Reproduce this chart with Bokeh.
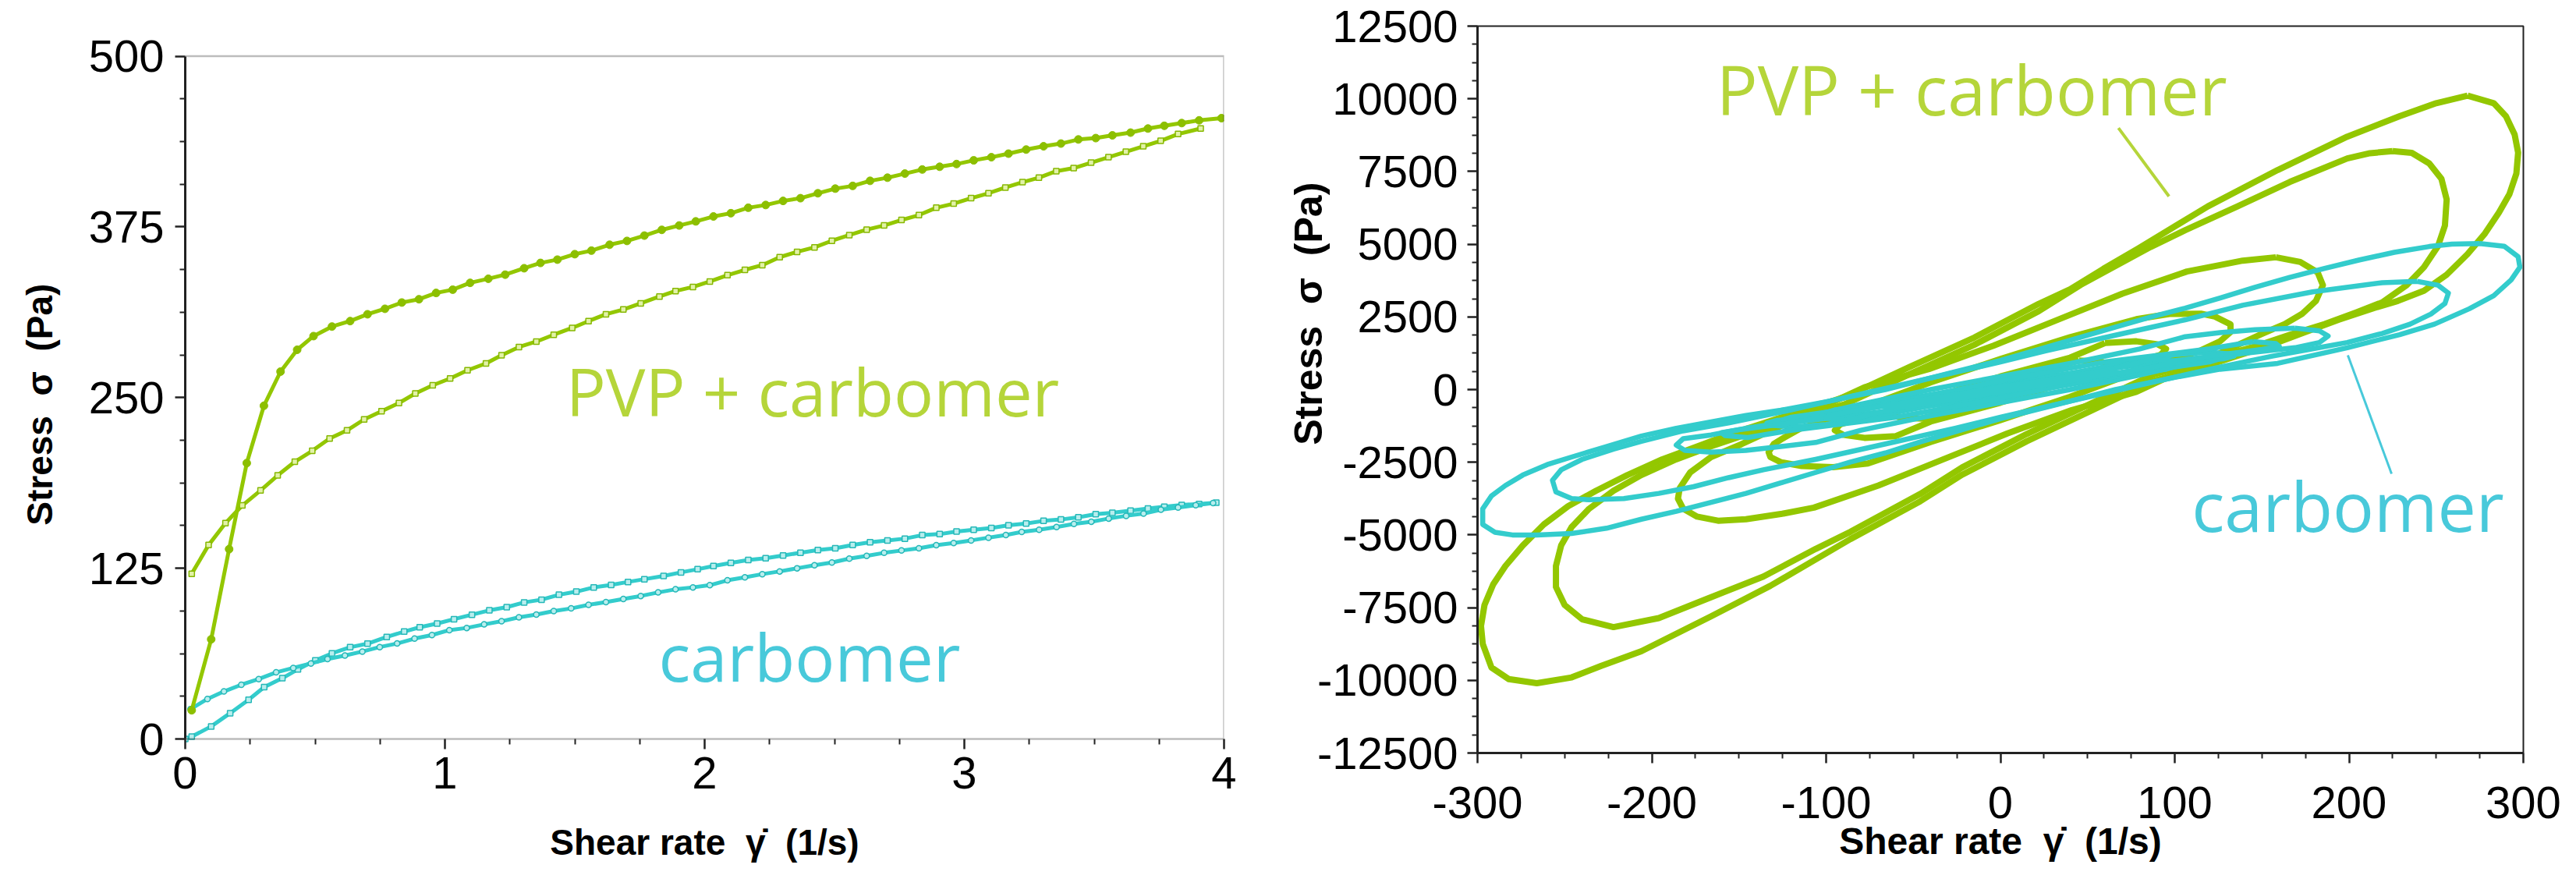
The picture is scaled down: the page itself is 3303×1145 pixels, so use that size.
import math
from bokeh.plotting import figure
from bokeh.layouts import row
from bokeh.models import Label, FixedTicker, Range1d, BoxAnnotation
from bokeh.embed import file_html
from bokeh.resources import INLINE

GREEN = "#93C700"
CYAN = "#33CCCC"
CYAN_EDGE = "#25B8B8"
GREEN_TXT = "#B5D53A"
CYAN_TXT = "#48C9DA"
AXIS_COL = "#222222"
TICK_FONT = "Liberation Sans"
NOTE_FONT = "Open Sans"
NB = "\u00a0"
SP = NB * 2

# ---------------- left chart: flow curves (stress vs shear rate) ----------------
pvp_up_x = [0.025, 0.10, 0.169, 0.237, 0.303, 0.367, 0.431, 0.494, 0.565, 0.635, 0.702, 0.769, 0.834, 0.900,
            0.966, 1.03, 1.097, 1.167, 1.232, 1.305, 1.368, 1.433, 1.50, 1.564, 1.634, 1.701, 1.768, 1.835,
            1.902, 1.966, 2.034, 2.101, 2.168, 2.235, 2.302, 2.369, 2.436, 2.503, 2.570, 2.637, 2.704, 2.771,
            2.838, 2.905, 2.970, 3.036, 3.104, 3.170, 3.238, 3.305, 3.372, 3.439, 3.506, 3.570, 3.640, 3.707,
            3.770, 3.837, 3.904, 3.99]
pvp_up_y = [21, 73, 139, 202, 244, 269, 285, 295, 302, 306, 311, 315, 319.6, 322,
            326.6, 329, 334, 337, 340, 344.7, 348.6, 351, 355, 357.6, 361.9, 364.7, 368.6, 372.8,
            376, 379, 382.6, 385, 389, 391, 394, 396, 399.6, 403, 405, 408.7, 411, 414,
            417, 419, 421, 423.7, 426, 428.6, 431.6, 434, 436, 439, 440, 442, 444, 447,
            449, 451, 453, 454.6]

pvp_down_x = [0.025, 0.09, 0.155, 0.22, 0.29, 0.356, 0.422, 0.489, 0.556, 0.623, 0.689, 0.756, 0.823, 0.886,
              0.953, 1.02, 1.087, 1.158, 1.218, 1.285, 1.352, 1.419, 1.49, 1.553, 1.62, 1.687, 1.754, 1.826,
              1.888, 1.955, 2.02, 2.088, 2.155, 2.222, 2.289, 2.356, 2.423, 2.49, 2.557, 2.624, 2.691, 2.758,
              2.825, 2.892, 2.959, 3.026, 3.093, 3.158, 3.224, 3.287, 3.354, 3.421, 3.488, 3.555, 3.622, 3.689,
              3.756, 3.823, 3.91]
pvp_down_y = [121, 142, 158, 171, 182, 193, 203, 211, 220, 226, 234, 240, 246, 253,
              259, 264, 270, 275, 281, 287, 291, 296, 301, 306, 311, 314.5, 319, 324,
              328, 331, 335, 339.6, 343.5, 347, 352.8, 356.7, 360, 364.8, 369, 373, 376, 380,
              383.6, 389, 392, 396, 399.6, 403.8, 407.7, 411, 415.8, 418, 422, 426, 430, 434,
              438, 443, 447]

carb_sq_x = [0.0, 0.025, 0.10, 0.173, 0.244, 0.304, 0.374, 0.434, 0.501, 0.565, 0.635, 0.702, 0.776, 0.843,
             0.903, 0.97, 1.035, 1.104, 1.171, 1.238, 1.305, 1.372, 1.439, 1.506, 1.573, 1.64, 1.705, 1.768,
             1.842, 1.909, 1.973, 2.034, 2.101, 2.168, 2.235, 2.302, 2.369, 2.436, 2.503, 2.570, 2.637, 2.704,
             2.771, 2.838, 2.905, 2.97, 3.036, 3.104, 3.17, 3.238, 3.305, 3.372, 3.439, 3.506, 3.57, 3.64,
             3.707, 3.77, 3.837, 3.904, 3.97]
carb_sq_y = [0, 1.7, 9.2, 18.9, 28.7, 38, 44.5, 51, 57.5, 62.7, 67.2, 69.8, 74.7, 78.6,
             81.8, 84.5, 87.7, 91, 94.2, 96.5, 100, 102, 105.6, 107.9, 111, 112.8, 115, 117,
             119.4, 122, 124.3, 126.6, 128.9, 131.1, 132.4, 134.4, 136.3, 138.3, 139.6, 142.1, 144.1, 145.4,
             146.7, 149.3, 150, 151.9, 153.2, 154.5, 156.5, 157.8, 159.7, 160.7, 162.3, 164.6, 165.6, 167.2,
             168.8, 170.1, 171.4, 172.1, 173.1]

carb_ci_x = [0.02, 0.0855, 0.149, 0.216, 0.283, 0.35, 0.416, 0.484, 0.548, 0.615, 0.682, 0.749, 0.816, 0.883,
             0.95, 1.017, 1.084, 1.151, 1.218, 1.285, 1.352, 1.419, 1.486, 1.553, 1.62, 1.687, 1.754, 1.821,
             1.888, 1.955, 2.02, 2.088, 2.155, 2.222, 2.289, 2.356, 2.423, 2.49, 2.557, 2.624, 2.691, 2.758,
             2.825, 2.892, 2.959, 3.026, 3.093, 3.16, 3.221, 3.288, 3.355, 3.422, 3.489, 3.556, 3.623, 3.69,
             3.757, 3.823, 3.891, 3.958]
carb_ci_y = [21.8, 29.3, 34.8, 39.7, 43.9, 48.8, 52, 55.3, 58.5, 61.1, 64, 67.3, 69.9, 73.5,
             76.1, 79.7, 81.3, 83.9, 86.2, 89.1, 91.1, 93.7, 95.6, 98.2, 100.2, 102.5, 104.7, 107.3,
             109.6, 111, 112.6, 116.2, 118.4, 120.7, 122.7, 125, 127.2, 129.2, 132.1, 134.1, 136.3, 138,
             139.6, 141.9, 143.5, 145.4, 147.4, 149.3, 151.6, 153.2, 155.2, 157.5, 159.1, 161.4, 163.4, 165,
             167.9, 169.5, 171.2, 172.8]

left_xticks = [0, 1, 2, 3, 4]
left_xminor = [0.25, 0.5, 0.75, 1.25, 1.5, 1.75, 2.25, 2.5, 2.75, 3.25, 3.5, 3.75]
left_yticks = [0, 125, 250, 375, 500]
left_yminor = [31.25, 62.5, 93.75, 156.25, 187.5, 218.75, 281.25, 312.5, 343.75, 406.25, 437.5, 468.75]

# ---------------- right chart: Lissajous loops (stress vs shear rate) ----------------
pvp_loop_1 = [(268, 10110), (283, 9850), (290, 9400), (295, 8770), (297, 8150), (296, 7430), (292, 6720),
              (286, 6090), (278, 5370), (268, 4660), (256, 3950), (243, 3400), (228, 3050), (214, 2800),
              (194, 2400), (174, 1960), (154, 1510), (120, 850), (88, 300), (52, -730), (15, -1780),
              (-22, -2930), (-46, -3840), (-86, -5140), (-132, -6750), (-166, -7800), (-206, -9000),
              (-229, -9500), (-246, -9900), (-266, -10100), (-282, -9960), (-292, -9560), (-297, -8750),
              (-298, -8130), (-296, -7410), (-291, -6700), (-284, -6070), (-274, -5360), (-262, -4640),
              (-248, -4010), (-232, -3480), (-214, -2940), (-194, -2400), (-174, -1960), (-154, -1510),
              (-120, -850), (-89, -250), (-52, 780), (-15, 1790), (22, 2950), (40, 3450), (59, 4150),
              (79, 4850), (119, 6300), (159, 7550), (199, 8700), (229, 9400), (250, 9850), (268, 10110)]
pvp_loop_2 = [(225, 8200), (236, 8140), (246, 7780), (253, 7250), (256, 6540), (255, 5640), (251, 4930),
              (243, 4210), (233, 3590), (219, 3000), (204, 2650), (186, 2250), (166, 1880), (146, 1480),
              (120, 1050), (88, 520), (52, -480), (15, -1530), (-22, -2680), (-46, -3590), (-86, -4890),
              (-106, -5480), (-136, -6430), (-166, -7140), (-196, -7860), (-222, -8170), (-240, -7900),
              (-250, -7410), (-255, -6790), (-255, -6070), (-252, -5360), (-246, -4730), (-236, -4100),
              (-222, -3480), (-206, -2940), (-186, -2400), (-166, -1950), (-146, -1550), (-120, -1080),
              (-89, -500), (-52, 530), (-15, 1540), (22, 2700), (46, 3600), (86, 4900), (106, 5480),
              (136, 6300), (166, 7140), (199, 7950), (212, 8130), (225, 8200)]
pvp_loop_3 = [(158, 4550), (172, 4390), (182, 4030), (185, 3590), (181, 3050), (173, 2600), (163, 2250),
              (149, 1890), (120, 1090), (78, -80), (41, -706), (4, -1511), (-33, -2405), (-70, -3300),
              (-107, -4060), (-126, -4280), (-146, -4460), (-162, -4510), (-174, -4370), (-182, -4100),
              (-185, -3750), (-184, -3390), (-178, -2850), (-166, -2320), (-149, -1890), (-120, -1090),
              (-78, 80), (-41, 706), (-4, 1511), (33, 2405), (70, 3300), (107, 4060), (126, 4280),
              (139, 4435), (158, 4550)]
pvp_loop_4 = [(97, 2600), (115, 2610), (123, 2510), (132, 2245), (132, 1980), (126, 1660), (115, 1350),
              (102, 1080), (80, 650), (40, -250), (0, -1050), (-40, -1800), (-76, -2540), (-96, -2670),
              (-114, -2630), (-126, -2500), (-132, -2320), (-133, -2150), (-130, -1870), (-124, -1650),
              (-115, -1350), (-102, -1080), (-80, -650), (-40, 250), (0, 1050), (40, 1800), (78, 2420),
              (97, 2600)]
pvp_loop_5 = [(60, 1600), (78, 1660), (90, 1560), (95, 1400), (92, 1200), (84, 1050), (70, 880), (40, 300),
              (0, -450), (-40, -1100), (-60, -1600), (-78, -1660), (-90, -1560), (-95, -1400), (-92, -1200),
              (-84, -1050), (-70, -880), (-40, -300), (0, 450), (40, 1100), (60, 1600)]
pvp_loop_6 = [(45, 1000), (58, 960), (65, 820), (58, 660), (30, 150), (0, -330), (-30, -750), (-45, -1000),
              (-58, -960), (-65, -820), (-58, -660), (-30, -150), (0, 330), (30, 750), (45, 1000)]

carb_loop_1 = [(275, 5020), (289, 4930), (297, 4570), (298, 4210), (293, 3770), (283, 3230), (269, 2780),
               (249, 2250), (229, 1890), (199, 1440), (179, 1170), (159, 900), (126, 700), (100, 420), (66, 0),
               (30, -550), (0, -1000), (-26, -1450), (-46, -1800), (-66, -2180), (-86, -2490), (-106, -2850),
               (-126, -3210), (-146, -3570), (-166, -3880), (-186, -4190), (-206, -4460), (-226, -4770),
               (-246, -4950), (-266, -5000), (-280, -5000), (-290, -4910), (-297, -4640), (-297, -4100),
               (-292, -3660), (-284, -3300), (-274, -2940), (-260, -2580), (-246, -2320), (-226, -1960),
               (-206, -1600), (-186, -1330), (-166, -1110), (-146, -890), (-126, -710), (-100, -420), (-66, 0),
               (-30, 550), (0, 1000), (26, 1450), (46, 1800), (66, 2150), (86, 2490), (106, 2800), (126, 3150),
               (146, 3520), (166, 3860), (186, 4170), (206, 4460), (226, 4720), (246, 4920), (259, 5000),
               (275, 5020)]
carb_loop_2 = [(239, 3720), (251, 3590), (257, 3320), (255, 2960), (247, 2600), (235, 2250), (219, 1930),
               (199, 1620), (179, 1400), (156, 1150), (120, 700), (80, 150), (40, -400), (0, -950),
               (-26, -1330), (-66, -1870), (-106, -2400), (-136, -2760), (-156, -3030), (-176, -3340),
               (-196, -3570), (-216, -3750), (-236, -3790), (-246, -3750), (-255, -3520), (-257, -3120),
               (-252, -2760), (-240, -2400), (-222, -2050), (-206, -1780), (-182, -1420), (-156, -1150),
               (-120, -700), (-80, -150), (-40, 400), (0, 950), (26, 1330), (66, 1870), (106, 2400),
               (139, 2900), (179, 3360), (219, 3675), (239, 3720)]
carb_loop_3 = [(169, 2110), (183, 2020), (188, 1840), (183, 1620), (169, 1440), (149, 1310), (126, 1150),
               (80, 500), (40, 0), (0, -450), (-40, -900), (-80, -1400), (-106, -1820), (-126, -1960),
               (-146, -2090), (-166, -2155), (-181, -2090), (-186, -1910), (-182, -1690), (-166, -1560),
               (-146, -1330), (-126, -1150), (-80, -500), (-40, 0), (0, 450), (40, 900), (80, 1400),
               (106, 1820), (126, 1960), (146, 2060), (169, 2110)]
carb_loop_4 = [(100, 1200), (120, 1290), (131, 1230), (134, 1150), (128, 1060), (112, 980), (90, 800),
               (50, 380), (0, -150), (-50, -650), (-80, -1000), (-100, -1200), (-120, -1290), (-131, -1230),
               (-134, -1150), (-128, -1060), (-112, -980), (-90, -800), (-50, -380), (0, 150), (50, 650),
               (80, 1000), (100, 1200)]
carb_loop_5 = [(70, 900), (90, 880), (100, 800), (95, 700), (80, 600), (40, 200), (0, -200), (-40, -550),
               (-70, -900), (-90, -880), (-100, -800), (-95, -700), (-80, -600), (-40, -200), (0, 200),
               (40, 550), (70, 900)]
carb_loop_6 = [(60, 620), (70, 540), (65, 440), (30, 100), (0, -150), (-30, -400), (-60, -620), (-70, -540),
               (-65, -440), (-30, -100), (0, 150), (30, 400), (60, 620)]
carb_loop_7 = [(115, 1100), (125, 1040), (120, 950), (80, 600), (0, -250), (-80, -850), (-115, -1100),
               (-125, -1040), (-120, -950), (-80, -600), (0, 250), (80, 850), (115, 1100)]
carb_loop_8 = [(45, 420), (52, 350), (48, 280), (20, 60), (0, -100), (-20, -260), (-45, -420), (-52, -350),
               (-48, -280), (-20, -60), (0, 100), (20, 260), (45, 420)]
carb_loop_9 = [(145, 1650), (158, 1580), (160, 1480), (150, 1380), (120, 1150), (60, 450), (0, -300),
               (-60, -950), (-120, -1400), (-145, -1650), (-158, -1580), (-160, -1480), (-150, -1380),
               (-120, -1150), (-60, -450), (0, 300), (60, 950), (120, 1400), (145, 1650)]
carb_loop_10 = [(88, 1050), (100, 980), (98, 880), (60, 500), (0, -80), (-60, -650), (-88, -1050), (-100, -980),
                (-98, -880), (-60, -500), (0, 80), (60, 650), (88, 1050)]

pvp_leader_x = [67.7, 96.7]
pvp_leader_y = [8995, 6644]
carb_leader_x = [199.3, 224.4]
carb_leader_y = [1180, -2897]

right_xticks = [-300, -200, -100, 0, 100, 200, 300]
right_xminor = [-275, -250, -225, -175, -150, -125, -75, -50, -25, 25, 50, 75, 125, 150, 175, 225, 250, 275]
right_yticks = [-12500, -10000, -7500, -5000, -2500, 0, 2500, 5000, 7500, 10000, 12500]
right_yminor = [-11875, -11250, -10625, -9375, -8750, -8125, -6875, -6250, -5625, -4375, -3750, -3125,
                -1875, -1250, -625, 625, 1250, 1875, 3125, 3750, 4375, 5625, 6250, 6875, 8125, 8750, 9375,
                10625, 11250, 11875]


def style_axes(p, xt, xm, yt, ym):
    p.grid.visible = False
    p.xaxis.ticker = FixedTicker(ticks=xt, minor_ticks=xm)
    p.yaxis.ticker = FixedTicker(ticks=yt, minor_ticks=ym)
    for ax in (p.xaxis[0], p.yaxis[0]):
        ax.axis_line_color = AXIS_COL
        ax.axis_line_width = 3
        ax.major_tick_line_color = AXIS_COL
        ax.major_tick_line_width = 2.5
        ax.minor_tick_line_color = AXIS_COL
        ax.minor_tick_line_width = 2
        ax.major_tick_in = 0
        ax.minor_tick_in = 0
        ax.major_tick_out = 13
        ax.minor_tick_out = 7
        ax.major_label_text_font = TICK_FONT
        ax.major_label_text_font_size = "58px"
        ax.major_label_text_color = "black"
        ax.axis_label_text_font = TICK_FONT
        ax.axis_label_text_font_style = "bold"
        ax.axis_label_text_color = "black"
    p.xaxis[0].major_label_overrides = {v: str(v) for v in xt}
    p.yaxis[0].major_label_overrides = {v: str(v) for v in yt}


# A Bokeh row aligns the frames of its plots, so both figures get the same borders; the left
# chart's 0..500 box then sits inside its frame (its stress axis ends 18 px above the frame bottom).
FIG_H = 1129
BORDER_TOP = 33
BORDER_BOTTOM = 164
FRAME_H = FIG_H - BORDER_TOP - BORDER_BOTTOM          # 932 px
LEFT_PX_PER_UNIT = 875.5 / 500.0
LEFT_GAP = 18
left_y_start = 0 - LEFT_GAP / LEFT_PX_PER_UNIT
left_y_end = left_y_start + FRAME_H / LEFT_PX_PER_UNIT

# ---------------- left figure ----------------
p1 = figure(width=1642, height=FIG_H, x_range=Range1d(0, 4), y_range=Range1d(left_y_start, left_y_end),
            output_backend="svg", toolbar_location=None,
            min_border_left=237, min_border_right=73, min_border_top=BORDER_TOP, min_border_bottom=BORDER_BOTTOM)
style_axes(p1, left_xticks, left_xminor, left_yticks, left_yminor)
p1.outline_line_color = None
p1.yaxis.bounds = (0, 500)
xa = p1.xaxis[0]
xa.axis_line_color = None
xa.major_tick_in = LEFT_GAP
xa.major_tick_out = 13 - LEFT_GAP
xa.minor_tick_in = LEFT_GAP
xa.minor_tick_out = 7 - LEFT_GAP
xa.major_label_standoff = 10
xa.axis_label_standoff = 40
p1.xaxis.axis_label = "Shear rate" + SP + "\u03b3\u0307" + SP + "(1/s)"
# trailing spaces move the centred label down to the middle of the 0..500 box
p1.yaxis.axis_label = "Stress" + SP + "\u03c3" + SP + "(Pa)" + NB * 3
p1.xaxis.axis_label_text_font_size = "46px"
p1.yaxis.axis_label_text_font_size = "46px"
p1.yaxis.major_label_standoff = 14
p1.yaxis.axis_label_standoff = 34
p1.add_layout(BoxAnnotation(left=0, right=4, bottom=0, top=500, fill_alpha=0,
                            line_color=AXIS_COL, line_width=2.5))

p1.line(carb_sq_x, carb_sq_y, line_width=5, color=CYAN)
p1.scatter(carb_sq_x, carb_sq_y, marker="square", size=7, fill_color="#B8EEEE", line_color=CYAN_EDGE, line_width=1.5)
p1.line(carb_ci_x, carb_ci_y, line_width=5, color=CYAN)
p1.scatter(carb_ci_x, carb_ci_y, marker="circle", size=7, fill_color="#B8EEEE", line_color=CYAN_EDGE, line_width=1.5)
p1.line(pvp_down_x, pvp_down_y, line_width=5, color=GREEN)
p1.scatter(pvp_down_x, pvp_down_y, marker="square", size=7, fill_color="#E2F2A8", line_color="#86B800", line_width=1.5)
p1.line(pvp_up_x, pvp_up_y, line_width=5, color=GREEN)
p1.scatter(pvp_up_x, pvp_up_y, marker="circle", size=10, color="#8CBF00")

p1.add_layout(Label(x=1.466, y=255, text="PVP + carbomer", text_font=NOTE_FONT, text_font_size="85px",
                    text_color=GREEN_TXT, text_baseline="alphabetic", text_align="left"))
p1.add_layout(Label(x=1.823, y=61, text="carbomer", text_font=NOTE_FONT, text_font_size="85px",
                    text_color=CYAN_TXT, text_baseline="alphabetic", text_align="left"))

# ---------------- right figure ----------------
p2 = figure(width=1645, height=FIG_H, x_range=Range1d(-300, 300), y_range=Range1d(-12500, 12500),
            output_backend="svg", toolbar_location=None,
            min_border_left=252, min_border_right=52, min_border_top=BORDER_TOP, min_border_bottom=BORDER_BOTTOM)
style_axes(p2, right_xticks, right_xminor, right_yticks, right_yminor)
p2.outline_line_color = AXIS_COL
p2.outline_line_width = 2
p2.xaxis.axis_label = "Shear rate" + SP + "\u03b3\u0307" + SP + "(1/s)"
p2.xaxis.axis_label_text_font_size = "48px"
p2.xaxis.major_label_standoff = 30
p2.yaxis.major_label_standoff = 12
p2.xaxis.axis_label_standoff = 0
# leading spaces lift the centred label up beside the short tick labels, as in the original
p2.yaxis.axis_label = NB * 14 + "Stress" + SP + "\u03c3" + SP + "(Pa)"
p2.yaxis.axis_label_text_font_size = "50px"
p2.yaxis.axis_label_standoff = -20

for loop in (pvp_loop_1, pvp_loop_2, pvp_loop_3, pvp_loop_4, pvp_loop_5, pvp_loop_6):
    p2.line([pt[0] for pt in loop], [pt[1] for pt in loop], line_width=8, color=GREEN, line_join="round")
for loop in (carb_loop_1, carb_loop_2, carb_loop_3, carb_loop_4, carb_loop_5, carb_loop_6,
             carb_loop_7, carb_loop_8, carb_loop_9, carb_loop_10):
    p2.line([pt[0] for pt in loop], [pt[1] for pt in loop], line_width=6.5, color=CYAN, line_join="round")

p2.line(pvp_leader_x, pvp_leader_y, line_width=4, color=GREEN_TXT)
p2.line(carb_leader_x, carb_leader_y, line_width=3, color=CYAN_TXT)

p2.add_layout(Label(x=-163, y=10350, text="PVP + carbomer", text_font=NOTE_FONT, text_font_size="88px",
                    text_color=GREEN_TXT, text_baseline="alphabetic", text_align="left"))
p2.add_layout(Label(x=109.7, y=-3980, text="carbomer", text_font=NOTE_FONT, text_font_size="88px",
                    text_color=CYAN_TXT, text_baseline="alphabetic", text_align="left"))

layout = row(p1, p2)
open("out.html", "w").write(file_html(layout, INLINE))
